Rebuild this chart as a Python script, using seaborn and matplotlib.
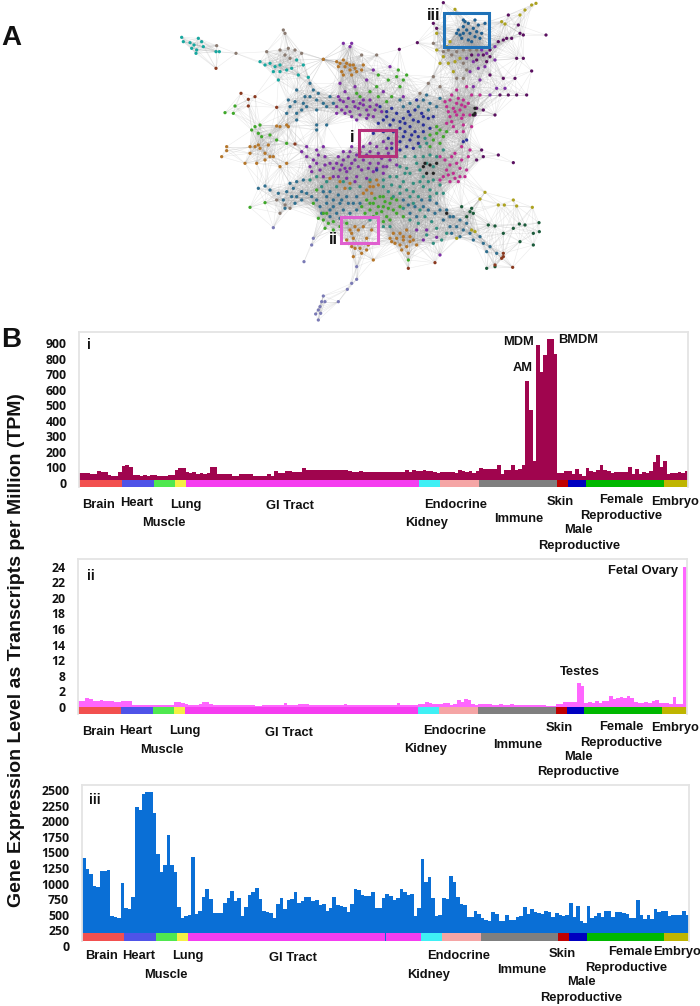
import numpy as np
import pandas as pd
import matplotlib
matplotlib.use('Agg')
import matplotlib.pyplot as plt
from matplotlib.collections import LineCollection
from matplotlib.patches import Rectangle
import seaborn as sns

sns.set_theme(style='white')
plt.rcParams['font.family'] = ['Liberation Sans', 'DejaVu Sans']

W, H = 700, 1006

# tissue groups, how many samples each has and the strip colour
tissues = ['Brain', 'Heart', 'Muscle', 'Lung', 'GI Tract', 'Kidney', 'Endocrine',
           'Immune', 'Skin', 'Male Reproductive', 'Female Reproductive', 'Embryo']
tissue_counts = [12, 9, 6, 3, 66, 6, 11, 22, 3, 5, 22, 7]
tissue_colors = ['#f2504f', '#4f53e8', '#4fe84f', '#f5f044', '#f53df0', '#3ff0f5',
                 '#f5a5a5', '#7f7f7f', '#c00000', '#0000c0', '#00b800', '#bfb500']

# cluster i
tpm_i = [70, 70, 68, 64, 62, 81, 75, 75, 55, 53, 53, 79,
         113, 120, 111, 58, 55, 54, 55, 52, 55,
         55, 52, 54, 54, 55, 56,
         90, 102, 105,
         75, 68, 75, 64, 68, 66, 68, 111, 111, 64, 64,
         62, 62, 53, 53, 64, 64, 64, 64, 53, 53, 51, 51, 64, 51, 81, 72, 72, 81, 81,
         79, 76, 76, 100, 88, 88, 88, 90, 92, 92,
         92, 88, 88, 92, 92, 88, 86, 80, 80, 84,
         80, 80, 80, 76, 78, 78, 78, 80, 76, 78,
         76, 78, 90, 80, 92, 86,
         86, 88, 86, 84, 78, 72,
         74, 76, 78, 76, 72, 90, 82, 76, 84, 72, 86,
         100, 94, 94, 94, 94, 122, 64, 90, 88, 122, 92, 94, 122,
         660, 474, 145, 891, 720, 827, 927, 927, 833,
         73, 73, 83, 81, 66, 96, 62, 53, 100, 83,
         79, 88, 124, 90, 85, 70, 79, 79, 79, 79,
         107, 66, 96, 64, 79, 73, 85, 143, 186, 107,
         145, 64, 68, 73, 75, 68, 83]

# cluster ii
tpm_ii = [2.1, 2.1, 2.6, 2.45, 2.2, 2.2, 2.25, 2.1, 2.1, 2.05, 2.0, 1.95,
          2.2, 2.2, 2.2, 1.5, 1.45, 1.4, 1.4, 1.4, 1.4,
          1.4, 1.4, 1.4, 1.4, 1.4, 1.45,
          1.9, 2.0, 1.8,
          1.6, 1.45, 1.5, 1.5, 1.65, 1.95, 1.9, 1.6, 1.45, 1.45,
          1.4, 1.4, 1.45, 1.4, 1.4, 1.4, 1.5, 1.45, 1.4, 1.4,
          1.35, 1.35, 1.55, 1.5, 1.5, 1.5, 1.55, 1.5, 1.85, 1.5,
          1.45, 1.45, 1.6, 1.6, 1.6, 1.55, 1.55, 1.5, 1.55, 1.5,
          1.5, 1.5, 1.5, 1.55, 1.5, 1.6, 1.5, 1.45, 1.5, 1.5,
          1.5, 1.5, 1.5, 1.45, 1.5, 1.5, 1.45, 1.45, 1.45, 1.5,
          1.8, 1.5, 1.4, 1.45, 1.45, 1.45,
          1.6, 1.7, 1.9, 1.85, 1.7, 1.6,
          1.7, 1.75, 1.85, 1.5, 1.7, 2.3, 1.9, 2.4, 2.25, 1.6, 1.45,
          1.6, 1.7, 1.7, 1.65, 1.55, 1.4, 1.6, 1.4, 1.5, 1.6, 1.55,
          1.5, 1.55, 1.5, 1.5, 1.45, 1.45, 1.4, 1.4, 1.35, 1.35, 1.35,
          1.65, 1.7, 2.0,
          1.9, 1.9, 2.0, 5.15, 4.6,
          1.8, 1.9, 1.85, 2.1, 1.85, 2.1, 2.05, 2.9, 2.5, 2.6, 2.75,
          2.55, 2.9, 2.6, 1.95, 1.8, 1.8, 1.9, 1.8, 2.1, 2.3, 1.75,
          1.85, 1.8, 1.7, 2.85, 1.7, 1.7, 24]

# cluster iii
tpm_iii = [1360, 1180, 1087, 895, 880, 1140, 1140, 1163, 410, 400,
           382, 945, 535, 520, 715, 2190, 2145, 2400, 2430, 2435,
           2090, 1414, 1130, 1245, 1725, 1234, 1130, 550, 377, 404,
           425, 1370, 442, 486, 715, 846, 682, 464, 464, 464,
           622, 700, 813, 660, 704, 415, 551, 748, 803, 863,
           693, 491, 475, 464, 382, 606, 700, 524, 666, 688,
           797, 628, 660, 726, 715, 650, 672, 584, 600, 486,
           535, 720, 590, 579, 551, 470, 600, 857, 835, 759,
           732, 743, 803, 540, 546, 704, 770, 743, 666, 710,
           846, 808, 753, 770, 404, 535, 1343, 972, 1048, 704,
           415, 420, 710, 688, 1065, 960, 715, 600, 595, 398,
           398, 486, 442, 371, 350, 322,
           470, 442, 333, 333, 426, 350, 344, 388, 415, 557,
           442, 519, 470, 459, 442, 497, 480, 399, 453, 431,
           415, 426, 617, 399, 579, 333, 295, 573, 371, 404,
           453, 388, 491, 497, 399, 470, 470, 453, 448, 371,
           371, 677, 426, 355, 420, 355, 519, 475, 491, 497,
           415, 420, 420, 420, 497, 431]

ticks_i = ['0', '100', '200', '300', '400', '500', '600', '700', '800', '900']
ticks_ii = ['0', '2', '8', '12', '14', '16', '18', '20', '22', '24']
ticks_iii = ['0', '250', '500', '750', '1000', '1250', '1500', '1750', '2000', '2250', '2500']

# network nodes, one list per module colour
teal = [(35, 112), (40, 125), (60, 128), (72, 135), (85, 115), (95, 125), (65, 145), (80, 150),
        (78, 160), (100, 140), (138, 155), (148, 155), (270, 185), (285, 195), (300, 190),
        (315, 200), (330, 195), (310, 215), (330, 215), (325, 240), (350, 210), (365, 205),
        (385, 225), (415, 232), (400, 195), (380, 180)]
taupe = [(340, 90), (345, 100), (330, 150), (345, 165), (360, 175), (375, 150), (395, 160),
         (198, 160), (140, 137), (290, 155), (355, 145), (460, 178), (575, 165), (620, 165),
         (320, 600), (345, 615), (330, 640), (360, 625), (820, 155), (845, 165), (880, 150),
         (900, 150), (920, 150), (790, 130), (860, 155), (835, 150), (880, 190), (890, 210),
         (860, 235), (880, 235), (790, 230), (775, 250), (750, 280), (810, 260)]
purple = [(520, 130), (545, 130), (540, 140), (510, 250), (525, 275), (555, 320), (570, 310),
          (590, 330), (600, 320), (620, 315), (510, 300), (530, 320), (500, 340), (545, 350),
          (570, 345), (590, 355), (610, 350), (520, 480), (535, 470), (515, 495), (545, 490),
          (510, 510), (530, 515), (555, 480), (580, 440), (600, 430), (620, 440), (640, 425),
          (600, 455), (625, 460), (650, 445), (665, 430), (580, 480), (600, 490), (625, 490),
          (650, 500), (660, 480), (575, 510), (610, 515), (640, 520), (440, 450), (460, 440),
          (430, 480), (465, 470), (480, 490), (420, 500), (450, 510), (490, 530), (545, 440),
          (560, 530), (590, 535), (600, 300), (640, 275), (660, 200), (610, 210), (590, 240),
          (555, 260), (700, 290), (740, 690), (770, 690), (800, 712), (810, 765), (760, 720),
          (505, 290), (520, 305), (535, 295), (550, 305), (565, 325), (580, 315), (595, 345),
          (615, 330), (635, 335), (525, 340), (540, 335), (560, 360), (500, 320), (515, 330),
          (580, 300), (520, 455), (505, 470), (540, 455), (560, 465), (500, 490), (525, 505),
          (540, 505), (565, 500), (590, 465), (610, 470), (635, 475), (570, 455), (595, 505),
          (620, 505), (655, 460), (640, 500), (680, 495), (445, 465), (410, 470), (425, 515),
          (465, 495), (490, 505), (505, 530), (530, 535), (555, 545), (460, 530), (440, 490),
          (395, 455), (410, 440), (950, 160), (925, 165), (975, 140), (935, 150), (910, 185),
          (890, 175), (945, 200), (925, 205), (900, 215), (975, 180), (930, 240), (910, 260),
          (980, 265), (1005, 265), (960, 285)]
navy = [(650, 350), (680, 340), (700, 355), (720, 345), (660, 375), (690, 385), (720, 380),
        (745, 365), (700, 410), (720, 420), (735, 395), (760, 375), (775, 355), (680, 410),
        (640, 395), (655, 415), (710, 440), (730, 445), (890, 420), (880, 425), (755, 340),
        (630, 320), (665, 325), (740, 300), (680, 470), (620, 510), (640, 360), (670, 360),
        (690, 365), (705, 370), (730, 360), (760, 350), (790, 350), (670, 395), (705, 395),
        (725, 405), (745, 410), (690, 425), (665, 445), (690, 450), (745, 430), (650, 335),
        (715, 335), (735, 330), (610, 400), (625, 370), (760, 395), (780, 385)]
steel = [(380, 590), (350, 575), (365, 590), (340, 600), (395, 600), (410, 580), (345, 625),
         (300, 570), (265, 565), (285, 558), (470, 590), (490, 600), (510, 610), (480, 630),
         (500, 640), (530, 590), (550, 610), (520, 630), (450, 620), (560, 630), (720, 640),
         (740, 650), (760, 620), (780, 600), (800, 610), (830, 630), (850, 650), (870, 660),
         (820, 660), (840, 680), (880, 690), (900, 700), (930, 710), (960, 740), (980, 760),
         (400, 310), (420, 290), (440, 300), (460, 310), (380, 340), (350, 340), (355, 300),
         (380, 270), (420, 250), (470, 320), (745, 320), (775, 330), (760, 300),
         (460, 575), (480, 575), (505, 585), (515, 600), (535, 610), (470, 610), (490, 620),
         (510, 655), (540, 640), (425, 590), (440, 600), (455, 640), (480, 650), (570, 610),
         (560, 590), (700, 600), (715, 615), (735, 620), (755, 600), (775, 630), (795, 640),
         (810, 630), (840, 650), (860, 680), (890, 670), (845, 700), (870, 710), (910, 720),
         (940, 730), (950, 755), (375, 305), (395, 330), (410, 320), (440, 330), (360, 320),
         (380, 360), (405, 290), (430, 270), (445, 280), (480, 290), (490, 310), (370, 565),
         (325, 580), (375, 610), (395, 575), (360, 550), (380, 545), (400, 540), (440, 390),
         (440, 375), (470, 375), (780, 310), (800, 320), (720, 310), (700, 320), (690, 300),
         (810, 295), (770, 285)]
green = [(590, 600), (610, 610), (630, 590), (640, 620), (660, 610), (670, 630), (620, 640),
         (650, 650), (680, 640), (600, 630), (640, 590), (660, 660), (570, 290), (620, 260),
         (650, 305), (680, 230), (700, 240), (255, 380), (270, 375), (265, 400), (275, 410),
         (300, 405), (320, 420), (350, 430), (245, 390), (190, 340), (165, 338), (195, 318),
         (460, 660), (475, 670), (465, 685), (490, 690), (430, 610), (440, 570), (800, 400),
         (820, 410), (790, 420), (810, 430), (780, 440), (240, 622), (285, 608), (715, 780),
         (600, 610), (615, 595), (625, 620), (645, 605), (655, 625), (635, 635), (665, 595),
         (690, 620), (575, 620), (585, 640), (610, 650), (640, 665), (470, 640), (445, 655),
         (460, 640), (490, 665), (510, 680), (530, 670), (700, 650), (680, 600), (800, 380),
         (830, 395), (780, 405), (810, 390), (560, 280), (600, 275), (625, 290), (665, 290),
         (690, 260), (710, 225), (655, 240), (625, 225), (685, 210)]
orange = [(240, 440), (255, 440), (270, 445), (240, 460), (285, 460), (300, 470), (285, 480),
          (310, 470), (265, 435), (295, 435), (170, 440), (155, 470), (170, 452), (225, 490),
          (260, 490), (330, 500), (350, 490), (510, 190), (525, 200), (540, 210), (560, 215),
          (515, 215), (530, 190), (550, 195), (575, 210), (670, 700), (690, 700), (710, 690),
          (680, 715), (700, 720), (720, 710), (665, 725), (690, 735), (710, 740), (730, 720),
          (545, 700), (565, 690), (580, 680), (550, 715), (590, 715), (545, 740), (570, 745),
          (590, 750), (575, 760), (610, 780), (550, 770), (600, 560), (620, 540), (580, 580),
          (350, 375), (330, 380), (320, 378), (355, 380), (460, 178), (500, 185), (520, 180),
          (540, 195), (555, 205), (580, 195), (505, 200), (520, 225), (545, 225), (660, 715),
          (675, 730), (700, 710), (720, 725), (740, 735), (695, 750), (715, 760), (600, 545),
          (590, 570), (610, 560), (625, 555), (605, 580), (480, 535), (510, 545), (540, 550),
          (525, 565), (555, 745), (595, 735), (605, 690), (540, 690), (555, 680), (530, 720)]
magenta = [(840, 300), (860, 310), (880, 300), (850, 325), (870, 330), (885, 320), (830, 320),
           (860, 345), (840, 350), (880, 345), (905, 285), (930, 285), (850, 380), (880, 375),
           (905, 380), (890, 260), (860, 270), (845, 470), (860, 490), (850, 520), (870, 530),
           (840, 545), (865, 545), (890, 510), (830, 510), (810, 540), (900, 450), (875, 440),
           (825, 305), (845, 285), (865, 295), (875, 315), (895, 310), (855, 335), (835, 335),
           (875, 355), (900, 345), (845, 365), (860, 395), (830, 370), (880, 395), (825, 480),
           (840, 495), (870, 505), (835, 525), (855, 535), (885, 530), (820, 530), (855, 460),
           (810, 470), (895, 470), (875, 480)]
maroon = [(790, 70), (800, 85), (1015, 45), (1045, 75), (1050, 100), (1060, 105), (1128, 105),
          (1010, 115), (985, 125), (1000, 120), (1025, 115), (960, 150), (940, 165), (920, 180),
          (950, 185), (960, 170), (905, 165), (1040, 175), (1060, 175), (1085, 213), (1035, 235),
          (1000, 235), (960, 225), (990, 285), (1040, 285), (1070, 285), (1015, 285), (975, 345),
          (940, 330), (915, 345), (920, 325), (935, 450), (985, 465), (1030, 488), (940, 470),
          (920, 480), (820, 8), (742, 128), (688, 148)]
module_blue = [(865, 90), (880, 80), (895, 70), (910, 85), (925, 75), (880, 100), (900, 100),
               (920, 95), (875, 115), (895, 120), (915, 110), (935, 100), (885, 65), (915, 60),
               (860, 100), (945, 70), (905, 125), (880, 60), (890, 90), (870, 105), (930, 115)]
olive = [(1065, 30), (1085, 15), (1098, 10), (1050, 45), (995, 65), (1005, 72), (840, 125),
         (830, 140), (820, 170), (835, 190), (855, 185), (800, 150), (810, 190), (870, 175),
         (850, 215), (945, 577), (930, 597), (985, 615), (1003, 615), (1030, 600), (1040, 618),
         (1087, 622), (905, 690), (915, 695), (860, 715), (855, 28), (800, 100)]
forest = [(955, 675), (975, 678), (1048, 672), (1065, 675), (1107, 668), (1090, 700), (1108, 695),
          (1030, 685), (1000, 700), (1090, 735), (1050, 725), (950, 805), (975, 800), (900, 635),
          (910, 640), (875, 620), (890, 650), (905, 625)]
rust = [(138, 205), (213, 280), (235, 298), (255, 290), (235, 318), (1000, 760), (995, 775),
        (1028, 802), (1000, 770), (975, 795), (715, 805), (795, 788), (320, 322), (375, 432)]
lavender = [(460, 888), (455, 905), (465, 905), (450, 920), (445, 930), (437, 942), (452, 940),
            (445, 960), (505, 905), (532, 868), (545, 850), (560, 838), (560, 800), (402, 785),
            (425, 735), (430, 715), (310, 683)]
seafoam = [(690, 500), (720, 520), (750, 510), (770, 490), (790, 500), (760, 530), (790, 540),
           (730, 550), (700, 545), (760, 560), (640, 540), (665, 555), (690, 580), (720, 590),
           (745, 590), (780, 570), (810, 555), (820, 580), (420, 540), (440, 530), (455, 560),
           (470, 545), (500, 560), (520, 545), (540, 565), (570, 560), (600, 540), (770, 430),
           (750, 440), (765, 415), (735, 470), (705, 470), (660, 530), (680, 530), (710, 505),
           (740, 490), (760, 470), (780, 465), (800, 470), (820, 450), (705, 520), (690, 560),
           (710, 570), (730, 575), (750, 545), (775, 545), (800, 580), (780, 590), (655, 575),
           (670, 590), (640, 560), (730, 610), (750, 630), (700, 625), (720, 660), (745, 670),
           (765, 650), (785, 665), (800, 685), (770, 705), (830, 700), (815, 720), (790, 730),
           (640, 680), (660, 680), (600, 660)]
ink = [(760, 500), (780, 495), (770, 520), (790, 520), (915, 340), (910, 345), (800, 490),
       (765, 490), (830, 640), (915, 325)]

node_groups = {'teal': teal, 'taupe': taupe, 'purple': purple, 'navy': navy, 'steel': steel,
               'green': green, 'orange': orange, 'magenta': magenta, 'maroon': maroon,
               'module_blue': module_blue, 'olive': olive, 'forest': forest, 'rust': rust,
               'lavender': lavender, 'seafoam': seafoam, 'ink': ink}
node_palette = {'teal': '#17a79f', 'taupe': '#8a7a70', 'purple': '#7d2fa5', 'navy': '#2a2f9a',
                'steel': '#2f6f8f', 'green': '#3fa82a', 'orange': '#b5762a', 'magenta': '#c02d90',
                'maroon': '#5a1060', 'module_blue': '#1f5f90', 'olive': '#aca21f', 'forest': '#1a5a3a',
                'rust': '#8a3a20', 'lavender': '#7a7ab5', 'seafoam': '#2f8f80', 'ink': '#222222'}

nodes = pd.DataFrame([(x, y, name) for name, pts in node_groups.items() for x, y in pts],
                     columns=['x', 'y', 'module'])


def place_axes(fig, left, top, right, bottom):
    return fig.add_axes([left / W, 1 - bottom / H, (right - left) / W, (bottom - top) / H])


def panel(fig, box, values, color, scale, strip, tick_pos, tick_labels):
    ax = place_axes(fig, *box)
    x = np.arange(len(values))
    sns.barplot(x=x, y=values, color=color, width=1.06, saturation=1, errorbar=None,
                linewidth=0, ax=ax)
    strip_colors = np.repeat(tissue_colors, tissue_counts)
    ax.bar(x, strip[1] - strip[0], bottom=strip[0], width=1, color=strip_colors, linewidth=0)
    ax.set_xlim(-0.5, len(values) - 0.5)
    ax.set_ylim(-(box[3] - scale[0]) / scale[1], (scale[0] - box[1]) / scale[1])
    ax.set_xticks([])
    ax.set_yticks(tick_pos, tick_labels)
    ax.tick_params(axis='y', length=0, pad=9.3)
    for lab in ax.get_yticklabels():
        lab.set(family='Open Sans', weight='bold', fontsize=8.8, color='#111111')
    ax.set(xlabel='', ylabel='')
    ax.spines['bottom'].set_visible(False)
    for side in ['top', 'left', 'right']:
        ax.spines[side].set_color('#e4e4e4')
        ax.spines[side].set_linewidth(1.3)
    ax.spines['left'].set_bounds(strip[0], ax.get_ylim()[1])
    ax.spines['right'].set_bounds(strip[0], ax.get_ylim()[1])
    ax.patch.set_alpha(0)
    return ax


def put(fig, px, py, s, size=9.3, **kw):
    fig.text(px / W, 1 - py / H, s, fontsize=size, weight='bold', ha='center', va='center',
             color='#111111', **kw)


fig = plt.figure(figsize=(W / 100, H / 100), dpi=100)

# panel A, coordinates are in the layout units the nodes were read in
net = fig.add_axes([170 / W, 1 - 330 / H, 380 / W, 330 / H])
pts = nodes[['x', 'y']].to_numpy(dtype=float)
dist = np.hypot(*(pts[:, None, :] - pts[None, :, :]).transpose(2, 0, 1))
a, b = np.where(np.triu(dist < 95, 1))
net.add_collection(LineCollection(np.stack([pts[a], pts[b]], axis=1), colors='#a0a0a0',
                                  linewidths=0.4, alpha=0.22, zorder=1))
sns.scatterplot(data=nodes, x='x', y='y', hue='module', palette=node_palette, s=5.5, linewidth=0,
                legend=False, ax=net, zorder=2)
net.set_xlim(0, 1140)
net.set_ylim(990, 0)
net.axis('off')
net.patch.set_alpha(0)
boxes = [(567, 390, 110, 77, '#b5307a'), (513, 650, 112, 78, '#e060d0'), (822, 38, 135, 103, '#1f72b8')]
for bx, by, bw, bh, c in boxes:
    net.add_patch(Rectangle((bx, by), bw, bh, fill=False, edgecolor=c, linewidth=2.2, zorder=3))

# panel B
ax_i = panel(fig, (79.3, 331.7, 688.3, 487.3), tpm_i, '#a0054e', (484, 0.156), (-21, 25),
             np.linspace(6.4, 904, 10), ticks_i)
ax_ii = panel(fig, (78.4, 559, 687, 714), tpm_ii, '#ff66ff', (714, 6.11), (0, 1.15),
              np.linspace(1.19, 24.1, 10), ticks_ii)
ax_iii = panel(fig, (82, 785, 689, 948), tpm_iii, '#0a6fd6', (941, 0.0612), (0, 126),
               np.linspace(-82, 2467, 11), ticks_iii)

names = ['Brain', 'Heart', 'Muscle', 'Lung', 'GI Tract', 'Endocrine', 'Kidney', 'Immune',
         'Skin', 'Female', 'Reproductive', 'Embryo', 'Male', 'Reproductive']
label_xy_i = [(98, 505), (137, 503), (164, 523), (186, 505), (290, 506), (456, 505), (427, 523),
              (519, 519), (560, 502), (621, 500), (621, 516), (675, 502), (578, 530), (579, 546)]
label_xy_ii = [(98, 732), (136, 731), (162, 750), (185, 731), (289, 733), (455, 731), (426, 749),
               (518, 745), (559, 728), (621, 727), (621, 743), (675, 728), (578, 757), (578, 772)]
label_xy_iii = [(101, 956), (139, 956), (166, 975), (188, 956), (293, 958), (459, 956), (429, 975),
                (522, 970), (562, 954), (630, 952), (626, 968), (677, 952), (581, 982), (581, 998)]
for xy in [label_xy_i, label_xy_ii, label_xy_iii]:
    for s, (px, py) in zip(names, xy):
        put(fig, px, py, s)

put(fig, 523, 368, 'AM')
put(fig, 518, 342, 'MDM')
put(fig, 578, 340, 'BMDM')
put(fig, 643, 571, 'Fetal Ovary')
put(fig, 580, 672, 'Testes')
put(fig, 89, 345, 'i', 10)
put(fig, 91, 576, 'ii', 10)
put(fig, 95, 800, 'iii', 10)
put(fig, 352, 137, 'i', 12)
put(fig, 333, 240, 'ii', 12)
put(fig, 434, 16, 'iii', 12)
put(fig, 11, 38, 'A', 20)
put(fig, 11, 340, 'B', 20)
put(fig, 17, 650, 'Gene Expression Level as Transcripts per Million (TPM)', 14, rotation=90)

fig.savefig('out.png', dpi=100)
